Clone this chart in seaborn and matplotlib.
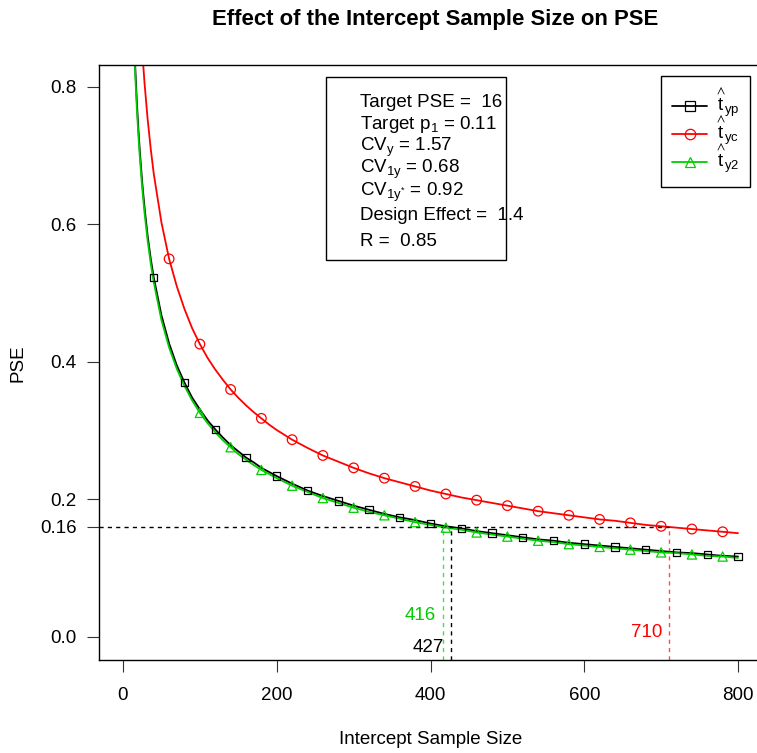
import numpy as np
import pandas as pd
import matplotlib
matplotlib.use("Agg")
import matplotlib.pyplot as plt
import seaborn as sns
from matplotlib.lines import Line2D
from matplotlib.patches import Rectangle

# ---------------- data ----------------
sample_size = [12, 14, 16, 18, 20, 22, 25, 28, 32, 36, 40, 50, 60, 70, 80, 90,
               100, 110, 120, 130, 140, 150, 160, 170, 180, 190, 200, 220, 240,
               260, 280, 300, 320, 340, 360, 380, 400, 420, 440, 460, 480, 500,
               520, 540, 560, 580, 600, 620, 640, 660, 680, 700, 720, 740, 760,
               780, 800]

pse_typ = [0.954, 0.884, 0.827, 0.779, 0.739, 0.705, 0.661, 0.625, 0.584, 0.551,
           0.523, 0.468, 0.427, 0.395, 0.370, 0.348, 0.331, 0.315, 0.302, 0.290,
           0.279, 0.270, 0.261, 0.254, 0.246, 0.240, 0.234, 0.223, 0.213, 0.205,
           0.198, 0.191, 0.185, 0.179, 0.174, 0.170, 0.165, 0.161, 0.158, 0.154,
           0.151, 0.148, 0.145, 0.142, 0.140, 0.137, 0.135, 0.133, 0.131, 0.129,
           0.127, 0.125, 0.123, 0.122, 0.120, 0.118, 0.117]

pse_tyc = [1.231, 1.139, 1.066, 1.005, 0.953, 0.909, 0.853, 0.806, 0.754, 0.711,
           0.674, 0.603, 0.550, 0.510, 0.477, 0.449, 0.426, 0.406, 0.389, 0.374,
           0.360, 0.348, 0.337, 0.327, 0.318, 0.309, 0.301, 0.287, 0.275, 0.264,
           0.255, 0.246, 0.238, 0.231, 0.225, 0.219, 0.213, 0.208, 0.203, 0.199,
           0.195, 0.191, 0.187, 0.183, 0.180, 0.177, 0.174, 0.171, 0.169, 0.166,
           0.163, 0.161, 0.159, 0.157, 0.155, 0.153, 0.151]

pse_ty2 = [0.942, 0.872, 0.816, 0.769, 0.730, 0.696, 0.653, 0.617, 0.577, 0.544,
           0.516, 0.461, 0.421, 0.390, 0.365, 0.344, 0.326, 0.311, 0.298, 0.286,
           0.276, 0.266, 0.258, 0.250, 0.243, 0.237, 0.231, 0.220, 0.211, 0.202,
           0.195, 0.188, 0.182, 0.177, 0.172, 0.167, 0.163, 0.159, 0.156, 0.152,
           0.149, 0.146, 0.143, 0.140, 0.138, 0.135, 0.133, 0.131, 0.129, 0.127,
           0.125, 0.123, 0.122, 0.120, 0.118, 0.117, 0.115]

# sample sizes where the markers are drawn
marker_typ = [40, 80, 120, 160, 200, 240, 280, 320, 360, 400, 440, 480, 520,
              560, 600, 640, 680, 720, 760, 800]
marker_tyc = [60, 100, 140, 180, 220, 260, 300, 340, 380, 420, 460, 500, 540,
              580, 620, 660, 700, 740, 780]
marker_ty2 = [100, 140, 180, 220, 260, 300, 340, 380, 420, 460, 500, 540, 580,
              620, 660, 700, 740, 780]

target_pse = 0.16
required_n = {"typ": 427, "tyc": 710, "ty2": 416}

info_lines = ["Target PSE =  16",
              "Target p$_1$ = 0.11",
              "CV$_y$ = 1.57",
              "CV$_{1y}$ = 0.68",
              "CV$_{1y^{*}}$ = 0.92",
              "Design Effect =  1.4",
              "R =  0.85"]

x_ticks = [0, 200, 400, 600, 800]
y_ticks = [0.0, 0.2, 0.4, 0.6, 0.8, 0.16]
y_tick_labels = ["0.0", "0.2", "0.4", "0.6", "0.8", "0.16"]

# ---------------- styling ----------------
sns.set_style("ticks")
plt.rcParams["font.family"] = ["Liberation Sans", "DejaVu Sans"]
plt.rcParams["mathtext.fontset"] = "custom"
plt.rcParams["mathtext.rm"] = "Liberation Sans"
plt.rcParams["mathtext.it"] = "Liberation Sans:italic"
plt.rcParams["mathtext.bf"] = "Liberation Sans:bold"
plt.rcParams["mathtext.default"] = "regular"
plt.rcParams["text.color"] = "black"
plt.rcParams["axes.labelcolor"] = "black"

FS = 13.5
colors = {"typ": "black", "tyc": "#FF0000", "ty2": "#00CD00"}
markers = {"typ": "s", "tyc": "o", "ty2": "^"}
msize = {"typ": 28, "tyc": 48, "ty2": 44}

df = pd.DataFrame({"n": sample_size, "typ": pse_typ, "tyc": pse_tyc, "ty2": pse_ty2})
long = df.melt(id_vars="n", var_name="est", value_name="pse")

fig = plt.figure(figsize=(7.57, 7.53), dpi=100)
ax = fig.add_axes([99 / 757, (753 - 660) / 753, (763 - 99) / 757, (660 - 65) / 753])

xlim = (-31.2, 832.5)
ylim = (-0.0335, 0.832)

order = ["typ", "tyc", "ty2"]
sns.lineplot(data=long, x="n", y="pse", hue="est", hue_order=order,
             palette=colors, linewidth=1.3, ax=ax, legend=False, sort=True)

mk = {"typ": marker_typ, "tyc": marker_tyc, "ty2": marker_ty2}
for est in order:
    sub = long[(long["est"] == est) & (long["n"].isin(mk[est]))]
    sns.scatterplot(data=sub, x="n", y="pse", marker=markers[est], s=msize[est],
                    facecolor="none", edgecolor=colors[est], linewidth=0.9,
                    ax=ax, legend=False, zorder=3)

# reference lines
ax.plot([xlim[0], required_n["tyc"]], [target_pse, target_pse], color="black",
        lw=1.0, dashes=(3, 3))
for est in ["typ", "ty2", "tyc"]:
    ax.plot([required_n[est], required_n[est]], [ylim[0], target_pse],
            color=colors[est], lw=1.0, dashes=(3, 3),
            alpha=1.0 if est == "typ" else 0.7)

label_y = {"ty2": 0.031, "typ": -0.015, "tyc": 0.007}
for est in ["ty2", "typ", "tyc"]:
    ax.annotate(str(required_n[est]), xy=(required_n[est], label_y[est]),
                xytext=(-5, 0), textcoords="offset points", ha="right",
                va="center", color=colors[est], fontsize=FS)

ax.set_xlim(*xlim)
ax.set_ylim(*ylim)
ax.set_xticks(x_ticks)
ax.set_xticklabels([str(v) for v in x_ticks])
ax.set_yticks(y_ticks)
ax.set_yticklabels(y_tick_labels)
ax.tick_params(axis="both", direction="out", length=8.6, width=0.8,
               color="#333333", labelsize=FS, labelcolor="black")
ax.tick_params(axis="x", pad=10.5)
ax.tick_params(axis="y", pad=7.5)
for s in ax.spines.values():
    s.set_color("black")
    s.set_linewidth(1.0)
ax.set_xlabel("")
ax.set_ylabel("")

fig.text(431 / 757, 1 - 740 / 753, "Intercept Sample Size", ha="center",
         va="center", fontsize=FS)
fig.text(18 / 757, 1 - 363 / 753, "PSE", ha="center", va="center",
         rotation=90, fontsize=FS)
fig.text(435 / 757, 1 - 20 / 753, "Effect of the Intercept Sample Size on PSE",
         ha="center", va="center", fontsize=15.9, fontweight="bold")

# info box
ax.add_patch(Rectangle((0.342, 0.672), 0.271, 0.308, transform=ax.transAxes,
                       fill=False, ec="black", lw=1.0, zorder=5))
info_y = [0.9294, 0.8924, 0.8555, 0.8185, 0.7798, 0.7395, 0.6958]
for txt, yy in zip(info_lines, info_y):
    ax.text(0.393, yy, txt, transform=ax.transAxes, ha="left", va="baseline",
            fontsize=FS)

# legend
handles = [Line2D([], [], color=colors[e], marker=markers[e], mfc="none",
                  mec=colors[e], ms=6.5 if e == "typ" else 7.5, lw=1.3, mew=0.9)
           for e in order]
labels = [r"$\overset{\wedge}{\mathrm{t}}_{\mathrm{yp}}$",
          r"$\overset{\wedge}{\mathrm{t}}_{\mathrm{yc}}$",
          r"$\overset{\wedge}{\mathrm{t}}_{\mathrm{y2}}$"]
leg = ax.legend(handles, labels, loc="upper right", bbox_to_anchor=(0.980, 0.9815),
                borderaxespad=0, fontsize=FS, frameon=True, fancybox=False,
                handlelength=1.9, handletextpad=0.45, labelspacing=-0.33,
                borderpad=0.55)
leg.get_frame().set_edgecolor("black")
leg.get_frame().set_linewidth(1.0)
leg.get_frame().set_alpha(1)

fig.savefig("out.png", dpi=100)
